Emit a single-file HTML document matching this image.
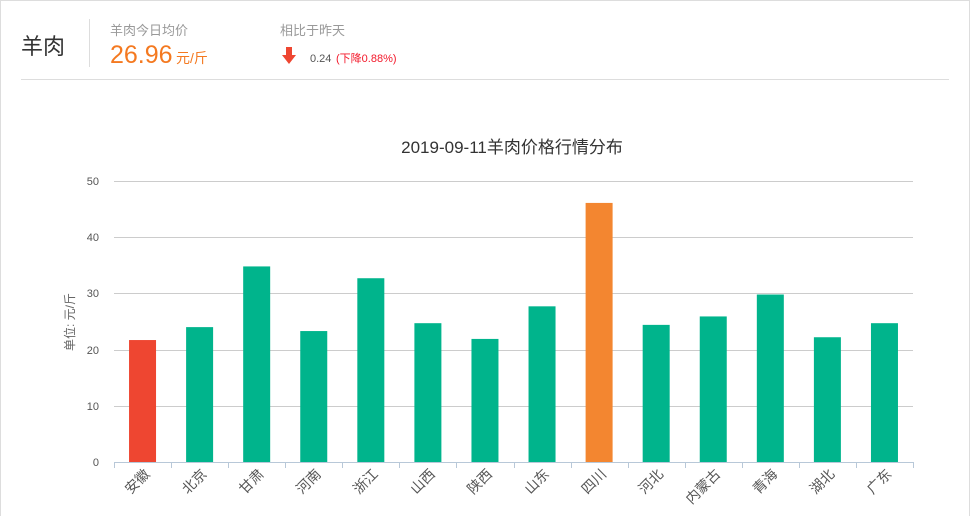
<!DOCTYPE html>
<html><head><meta charset="utf-8"><style>
html,body{margin:0;width:970px;height:516px;overflow:hidden;background:#fff;font-family:"Liberation Sans","Noto Sans CJK SC",sans-serif;}
.box{position:absolute;left:0;top:0;width:968px;height:515px;border:1px solid #ddd;border-bottom:none;}
</style></head><body>
<div class="box"></div>
<svg width="970" height="516" style="position:absolute;left:0;top:0" font-family="Liberation Sans, Noto Sans CJK SC, sans-serif">
<text x="21" y="54" font-size="22" fill="#333">羊肉</text>
<line x1="89.5" y1="19" x2="89.5" y2="67" stroke="#ddd"/>
<text x="110" y="35" font-size="13" fill="#999">羊肉今日均价</text>
<text x="110" y="63" font-size="25" fill="#f47920">26.96</text>
<text x="176" y="63" font-size="14" fill="#f47920">元/斤</text>
<text x="280" y="35" font-size="13" fill="#999">相比于昨天</text>
<path d="M286,47 h6 v8 h4 l-7,9 l-7,-9 h4z" fill="#ee4631"/>
<text x="310" y="62" font-size="11" fill="#555">0.24</text>
<text x="336" y="62" font-size="11" fill="#f3182a">(下降0.88%)</text>
<line x1="21" y1="79.5" x2="949" y2="79.5" stroke="#ddd"/>
<text x="512" y="153" font-size="17" fill="#333" text-anchor="middle">2019-09-11羊肉价格行情分布</text>
<g stroke="#ccc" stroke-width="1">
<line x1="114" y1="181.5" x2="913" y2="181.5"/>
<line x1="114" y1="237.5" x2="913" y2="237.5"/>
<line x1="114" y1="293.5" x2="913" y2="293.5"/>
<line x1="114" y1="350.5" x2="913" y2="350.5"/>
<line x1="114" y1="406.5" x2="913" y2="406.5"/>
</g>
<g font-size="11" fill="#555" text-anchor="end">
<text x="99" y="185">50</text><text x="99" y="241">40</text><text x="99" y="297">30</text><text x="99" y="354">20</text><text x="99" y="410">10</text><text x="99" y="466">0</text>
</g>
<text transform="translate(74,322) rotate(-90)" font-size="12" fill="#666" text-anchor="middle">单位: 元/斤</text>
<g id="bars"></g>
<line x1="114" y1="462.5" x2="913" y2="462.5" stroke="#b8c8d8"/>
<g id="ticks" stroke="#b8c8d8"></g>
<g id="labels" font-size="14" fill="#555" text-anchor="end"></g>
</svg>
<script>
var names=["安徽","北京","甘肃","河南","浙江","山西","陕西","山东","四川","河北","内蒙古","青海","湖北","广东"];
var v=[21.7,24.0,34.8,23.3,32.7,24.7,21.9,27.7,46.1,24.4,25.9,29.8,22.2,24.7];
var ns="http://www.w3.org/2000/svg",w=799/14,b=document.getElementById("bars"),t=document.getElementById("ticks"),l=document.getElementById("labels");
for(var i=0;i<14;i++){var c=114+w*(i+0.5),h=v[i]*5.62;
var r=document.createElementNS(ns,"rect");r.setAttribute("x",c-13.5);r.setAttribute("width",27);r.setAttribute("y",462-h);r.setAttribute("height",h);
r.setAttribute("fill",i==0?"#ee4631":i==8?"#f38630":"#00b48c");b.appendChild(r);
var tx=document.createElementNS(ns,"text");tx.setAttribute("transform","translate("+(c+8)+",475) rotate(-45)");tx.textContent=names[i];l.appendChild(tx);}
for(var i=0;i<=14;i++){var x=Math.round(114+w*i)+0.5;var ln=document.createElementNS(ns,"line");ln.setAttribute("x1",x);ln.setAttribute("x2",x);ln.setAttribute("y1",462);ln.setAttribute("y2",468);t.appendChild(ln);}
</script>
</body></html>
